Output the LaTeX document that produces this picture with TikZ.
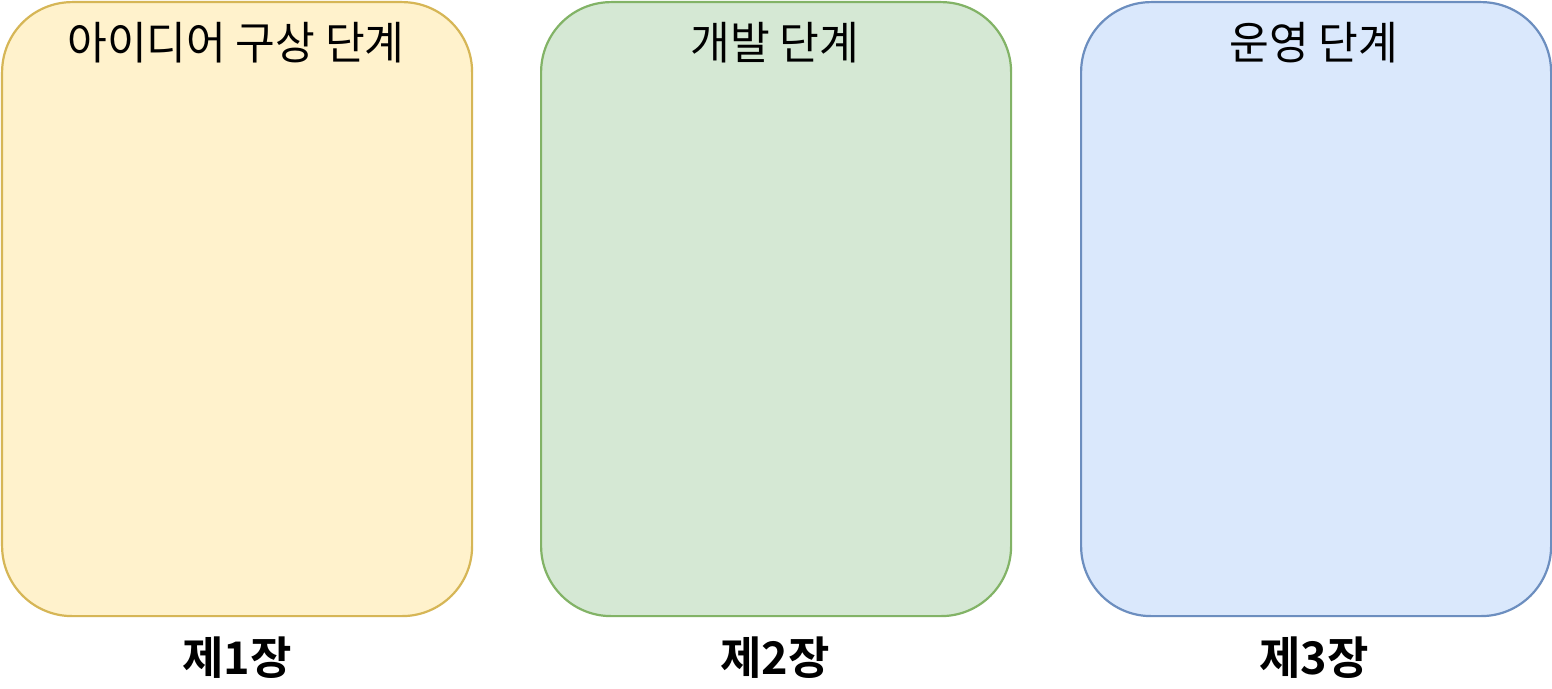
\documentclass[tikz,border=0pt]{standalone}
\usepackage{fontspec}
\setmainfont{Noto Sans CJK KR}
\newfontfamily\krfont{Noto Sans CJK KR}
\newfontfamily\krbold{Noto Sans CJK KR Bold}
\definecolor{yfill}{HTML}{FFF2CC}
\definecolor{ydraw}{HTML}{D6B656}
\definecolor{gfill}{HTML}{D5E8D4}
\definecolor{gdraw}{HTML}{82B366}
\definecolor{bfill}{HTML}{DAE8FC}
\definecolor{bdraw}{HTML}{6C8EBF}
\begin{document}
\begin{tikzpicture}[x=1pt,y=-1pt,
  phase/.style={draw, line width=2.2pt, rounded corners=70pt, minimum width=470pt, minimum height=614pt, inner sep=0pt, anchor=north west},
  title/.style={font=\krfont\fontsize{45}{47}\selectfont, inner sep=0pt, anchor=center},
  chap/.style={font=\krbold\fontsize{45}{47}\selectfont, inner sep=0pt, anchor=center}]
\useasboundingbox (0,0) rectangle (1552,688);
\fill[white] (0,0) rectangle (1552,688);
\node[phase, fill=yfill, draw=ydraw] (p1) at (1,1) {};
\node[phase, fill=gfill, draw=gdraw] (p2) at (540,1) {};
\node[phase, fill=bfill, draw=bdraw] (p3) at (1080,1) {};
\node[title] (t1) at (236,43) {\scalebox{0.96}[1]{아이디어 구상 단계}};
\node[title] (t2) at (775,43) {\scalebox{0.96}[1]{개발 단계}};
\node[title] (t3) at (1314,43) {\scalebox{0.96}[1]{운영 단계}};
\node[chap] (c1) at (237,658) {제1장};
\node[chap] (c2) at (775,658) {제2장};
\node[chap] (c3) at (1314,658) {제3장};
\end{tikzpicture}
\end{document}
